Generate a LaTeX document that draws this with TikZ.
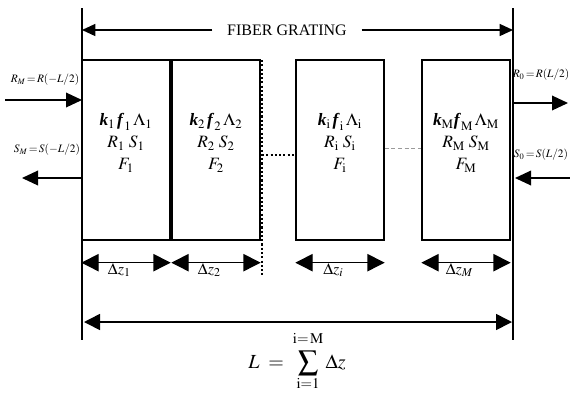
\documentclass[tikz,border=0pt]{standalone}
\usepackage{amsmath}
\usepackage{mathptmx}
\usepackage{fontspec}
\setmainfont{Liberation Serif}
\usetikzlibrary{positioning,arrows.meta,calc}
\definecolor{ink}    {HTML}{000000}
\definecolor{softink}{HTML}{9A9A9A}
\tikzset{
  every node/.style={font=\normalsize},
  % --- nodes
  seg/.style  = {draw=ink, line width=1pt, minimum width=66pt, minimum height=135pt,
                 inner sep=0pt},
  cell/.style = {align=center, inner sep=0pt, font=\fontsize{13}{16.5}\selectfont},
  sig/.style  = {font=\fontsize{8.5}{10}\selectfont, inner sep=0pt},
  dlbl/.style = {font=\fontsize{12}{13}\selectfont, inner sep=0pt},
  % --- edges
  e/.style    = {-{Triangle[length=12pt,width=11pt]}, line width=1pt, draw=ink},
  dim/.style  = {{Triangle[length=13pt,width=13pt]}-{Triangle[length=13pt,width=13pt]},
                 line width=1pt, draw=ink},
  dimtop/.style = {-{Triangle[length=10pt,width=9pt]}, line width=1pt, draw=ink},
  dimall/.style = {{Triangle[length=12pt,width=12pt]}-{Triangle[length=12pt,width=12pt]},
                   line width=1.2pt, draw=ink},
  wall/.style = {line width=1pt, draw=ink},
  dots/.style = {line width=1.6pt, draw=ink, dash pattern=on 1.6pt off 1.6pt},
  gap/.style  = {draw=softink, densely dashed, line width=0.4pt},
}
\begin{document}
\begin{tikzpicture}[x=0.75pt,y=-0.75pt]
  \useasboundingbox (0,0) rectangle (570,394);

  % grating ends
  \coordinate (lt) at (82,8);  \coordinate (lb) at (82,340);
  \coordinate (rt) at (513,8); \coordinate (rb) at (513,340);
  \draw[wall] (lt) -- (lb);
  \draw[wall] (rt) -- (rb);

  \node[font=\large, inner xsep=11pt] (fg) at (287,30) {FIBER GRATING};
  \draw[dimtop] (fg.west) -- (fg.west -| lt);
  \draw[dimtop] (fg.east) -- (fg.east -| rt);

  % sections
  \node[seg] (b1) at (126,150) {};
  \node[seg] (b2) at (216,150) {};
  \node[seg] (b3) at (340,150) {};
  \node[seg] (b4) at (466,150) {};

  \node[cell] (t1) at (126,143) {$\textbf{\textit{k}}_{\mathrm{1}}\,\textbf{\textit{f}}_{\mathrm{1}}\,\Lambda_{\mathrm{1}}$\\$R_{\mathrm{1}}\;S_{\mathrm{1}}$\\$F_{\mathrm{1}}$};
  \node[cell] (t2) at (216,143) {$\textbf{\textit{k}}_{\mathrm{2}}\,\textbf{\textit{f}}_{\mathrm{2}}\,\Lambda_{\mathrm{2}}$\\$R_{\mathrm{2}}\;S_{\mathrm{2}}$\\$F_{\mathrm{2}}$};
  \node[cell] (t3) at (340,143) {$\textbf{\textit{k}}_{\mathrm{i}}\,\textbf{\textit{f}}_{\mathrm{i}}\,\Lambda_{\mathrm{i}}$\\$R_{\mathrm{i}}\;S_{\mathrm{i}}$\\$F_{\mathrm{i}}$};
  \node[cell] (t4) at (466,143) {$\textbf{\textit{k}}_{\mathrm{M}}\textbf{\textit{f}}_{\mathrm{M}}\,\Lambda_{\mathrm{M}}$\\$R_{\mathrm{M}}\;S_{\mathrm{M}}$\\$F_{\mathrm{M}}$};

  % skipped sections
  \coordinate (dtop) at (262,60); \coordinate (dbot) at (262,275);
  \coordinate (dmid) at (262,155);
  \draw[dots] (dtop) -- (dbot);
  \draw[dots] (dmid) -- (dmid -| b3.west);
  \draw[gap] ([yshift=1.5pt]b3.east) -- ([yshift=1.5pt]b4.west);

  % section lengths
  \draw[dim] ([yshift=-16.5pt]b1.south west) -- ([yshift=-16.5pt]b1.south east)
    node[dlbl, midway, below=0pt, xshift=-5pt] (d1) {$\Delta z_1$};
  \draw[dim] ([yshift=-16.5pt]b2.south west) -- ([yshift=-16.5pt]b2.south east)
    node[dlbl, midway, below=0pt, xshift=-5pt] (d2) {$\Delta z_2$};
  \draw[dim] ([yshift=-16.5pt]b3.south west) -- ([yshift=-16.5pt]b3.south east)
    node[dlbl, midway, below=0pt, xshift=-5pt] (d3) {$\Delta z_i$};
  \draw[dim] ([yshift=-16.5pt]b4.south west) -- ([yshift=-16.5pt]b4.south east)
    node[dlbl, midway, below=0pt, xshift=-5pt] (d4) {$\Delta z_M$};

  % total length
  \coordinate (lo) at (84,322); \coordinate (ro) at (512,322);
  \draw[dimall] (lo) -- (ro);
  \node[font=\fontsize{15}{18}\selectfont] (sum) at (297,361)
    {$\displaystyle L \;=\; \sum_{\mathrm{i}=1}^{\mathrm{i}=\,\mathrm{M}\rule[-4pt]{0pt}{0pt}} \Delta z$};

  % fields at the ends
  \node[sig] (rm) at (45,80)  {$R_M\!=\!R(-L/2)$};
  \node[sig] (sm) at (47,150) {$S_M\!=\!S(-L/2)$};
  \node[sig] (r0) at (541,75)  {$R_0\!=\!R(L/2)$};
  \node[sig] (s0) at (541,155) {$S_0\!=\!S(L/2)$};

  \coordinate (rmin)  at (5,100);
  \coordinate (smout) at (22,178);
  \coordinate (r0out) at (568,103);
  \coordinate (s0in)  at (570,178);
  \draw[e] (rmin) -- (rmin -| lt);
  \draw[e] (smout -| lt) -- (smout);
  \draw[e] (r0out -| rt) -- (r0out);
  \draw[e] (s0in) -- ([xshift=1.5pt]s0in -| rt);
\end{tikzpicture}
\end{document}
